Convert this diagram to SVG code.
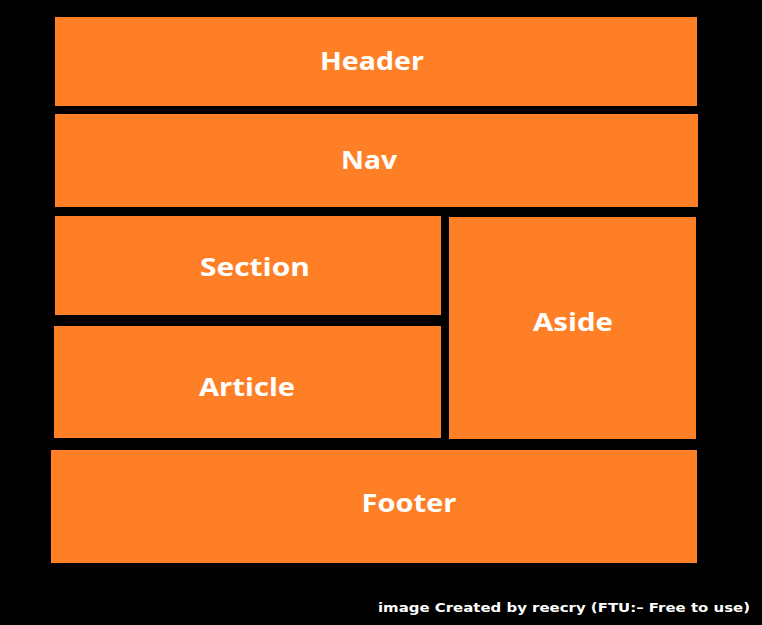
<svg xmlns="http://www.w3.org/2000/svg" width="762" height="625" viewBox="0 0 762 625">
<style>
.box{fill:#FF7F27}
.lbl{font-family:"Open Sans","Liberation Sans",sans-serif;font-weight:700;font-size:25px;fill:#fff;text-anchor:middle}
.credit{font-family:"DejaVu Sans","Liberation Sans",sans-serif;font-weight:700;font-size:13px;fill:#fff}
</style>
<rect width="762" height="625" fill="#000"/>
<g id="header"><rect class="box" x="55" y="17" width="642" height="89"/><text class="lbl" x="372" y="70" textLength="104" lengthAdjust="spacingAndGlyphs">Header</text></g>
<g id="nav"><rect class="box" x="55" y="114" width="643" height="93"/><text class="lbl" x="369" y="169" textLength="56" lengthAdjust="spacingAndGlyphs">Nav</text></g>
<g id="section"><rect class="box" x="55" y="216" width="386" height="99"/><text class="lbl" x="255" y="276" textLength="110" lengthAdjust="spacingAndGlyphs">Section</text></g>
<g id="article"><rect class="box" x="54" y="326" width="387" height="112"/><text class="lbl" x="247" y="396" textLength="96" lengthAdjust="spacingAndGlyphs">Article</text></g>
<g id="aside"><rect class="box" x="449" y="217" width="247" height="222"/><text class="lbl" x="573" y="331" textLength="80" lengthAdjust="spacingAndGlyphs">Aside</text></g>
<g id="footer"><rect class="box" x="51" y="450" width="646" height="113"/><text class="lbl" x="409" y="512" textLength="95" lengthAdjust="spacingAndGlyphs">Footer</text></g>
<g id="connectors"></g>
<text class="credit" x="378" y="612" textLength="372" lengthAdjust="spacingAndGlyphs">image Created by reecry (FTU:– Free to use)</text>
</svg>
